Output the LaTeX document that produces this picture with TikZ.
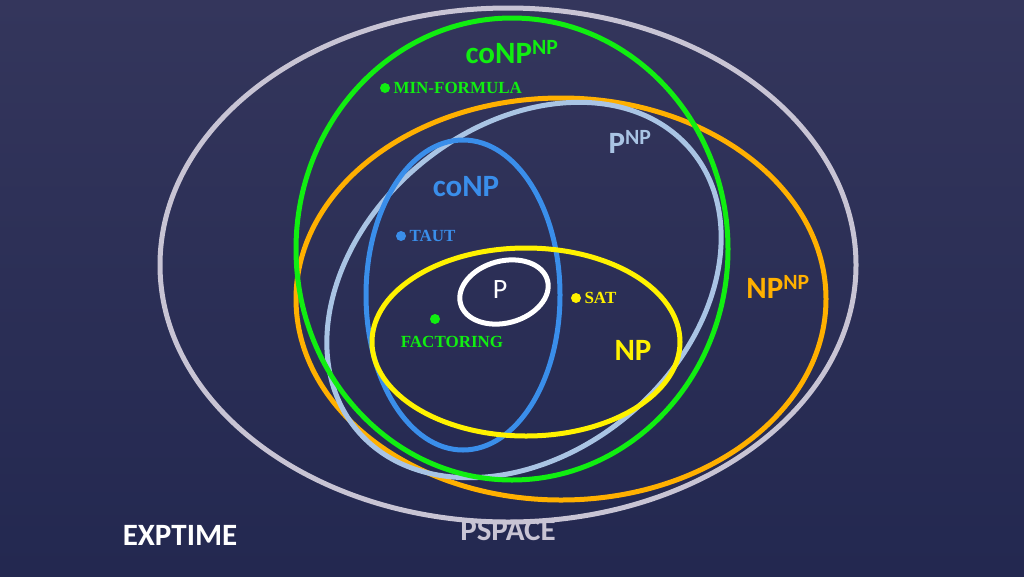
\documentclass[tikz,border=0pt]{standalone}
\usepackage{fontspec}
\setmainfont{Liberation Serif}
\setsansfont{Carlito}
\definecolor{bgtop}{HTML}{34365C}
\definecolor{bgbot}{HTML}{232850}
\definecolor{cgreen}{HTML}{11EE11}
\definecolor{corange}{HTML}{FFB000}
\definecolor{clblue}{HTML}{A9C4E4}
\definecolor{cblue}{HTML}{3A8EEA}
\definecolor{cyellow}{HTML}{FFF200}
\definecolor{cgray}{HTML}{C8C4D4}
\begin{document}
\begin{tikzpicture}[x=1pt,y=-1pt]
	\tikzset{ring/.style={line width=5pt},
		cls/.style={font=\sffamily\bfseries\fontsize{31}{33}\selectfont},
		prob/.style={font=\bfseries\fontsize{17}{18}\selectfont, anchor=west}}
	\shade[top color=bgtop, bottom color=bgbot] (0,0) rectangle (1024,576);
	\useasboundingbox (0,0) rectangle (1024,576);
	
	\draw[ring, cgray] (508,265) ellipse [x radius=348, y radius=257];
	\draw[ring, corange] (561,299) ellipse [x radius=265, y radius=201];
	\draw[ring, clblue, rotate around={40:(524,290)}] (524,290) ellipse [x radius=218, y radius=163];
	\draw[ring, cgreen] (512,249) ellipse [x radius=216, y radius=231];
	\draw[ring, cblue] (463,295) ellipse [x radius=97, y radius=155];
	\draw[ring, cyellow] (526,342) ellipse [x radius=154, y radius=94];
	\draw[ring, white, rotate around={15:(504,292)}] (504,292) ellipse [x radius=45, y radius=31];
	
	\node[cls, cgreen] (conpnp) at (512,52) {coNP\textsuperscript{NP}};
	\node[cls, clblue] (pnp) at (630,142) {P\textsuperscript{NP}};
	\node[cls, cblue] (conp) at (466,187) {coNP};
	\node[cls, white, font=\sffamily\fontsize{28}{30}\selectfont] (p) at (500,290) {P};
	\node[cls, cyellow] (np) at (633,350) {NP};
	\node[cls, corange] (npnp) at (778,287) {NP\textsuperscript{NP}};
	\node[cls, cgray] (pspace) at (508,530) {PSPACE};
	\node[cls, white] (exptime) at (180,535) {EXPTIME};
	
	\fill[cgreen] (385,88) circle (5);
	\node[prob, cgreen] (minf) at (390,88) {MIN-FORMULA};
	\fill[cblue] (401,236) circle (5);
	\node[prob, cblue] (taut) at (406,236) {TAUT};
	\fill[cyellow] (576,298) circle (5);
	\node[prob, cyellow] (sat) at (581,298) {SAT};
	\fill[cgreen] (435,319) circle (5);
	\node[prob, cgreen, anchor=center] (fact) at (452,342) {FACTORING};
\end{tikzpicture}
\end{document}
